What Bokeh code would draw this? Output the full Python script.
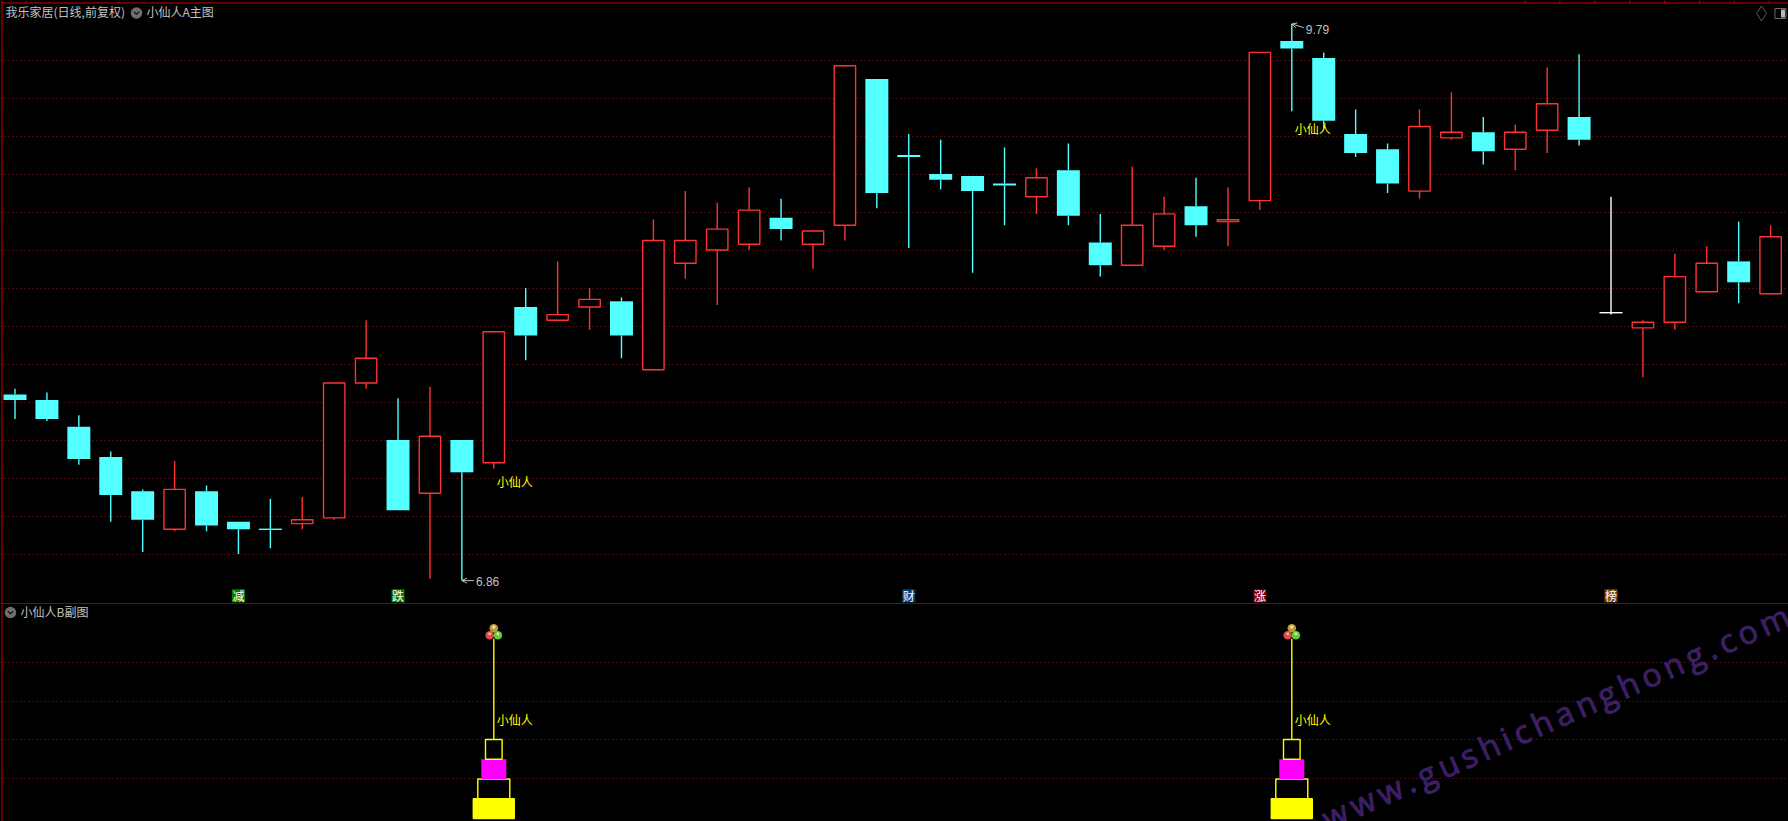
import math
from bokeh.plotting import figure
from bokeh.layouts import column
from bokeh.models import Range1d, Grid, FixedTicker, Span, Arrow, OpenHead
from bokeh.core.properties import value
from bokeh.embed import file_html
from bokeh.resources import INLINE

# ---------- data ----------
opens  = [7.84,7.81,7.67,7.51,7.33,7.13,7.33,7.17,7.13,7.16,7.19,7.90,7.60,7.32,
          7.60,7.48,8.30,8.23,8.30,8.33,7.97,8.53,8.60,8.63,8.77,8.63,8.73,9.50,
          9.10,9.00,8.99,8.95,8.88,9.02,8.64,8.52,8.62,8.83,8.75,8.86,9.70,9.61,
          9.21,9.13,8.91,9.19,9.22,9.13,9.23,9.30,8.27,8.19,8.22,8.38,8.54,8.37]
highs  = [7.87,7.85,7.73,7.54,7.34,7.49,7.36,7.17,7.29,7.30,7.90,8.23,7.82,7.88,
          7.60,8.17,8.40,8.54,8.40,8.35,8.76,8.91,8.85,8.93,8.87,8.70,9.57,9.50,
          9.21,9.18,8.99,9.14,9.03,9.16,8.79,9.04,8.88,8.98,8.93,9.64,9.79,9.64,
          9.34,9.16,9.34,9.43,9.30,9.26,9.56,9.63,8.88,8.23,8.58,8.62,8.75,8.73]
lows   = [7.71,7.70,7.47,7.17,7.01,7.12,7.12,7.00,7.03,7.13,7.18,7.87,7.23,6.87,
          6.86,7.45,8.02,8.23,8.18,8.03,7.97,8.45,8.31,8.60,8.65,8.50,8.65,8.82,
          8.61,8.92,8.48,8.73,8.79,8.73,8.46,8.52,8.60,8.67,8.62,8.81,9.33,9.24,
          9.09,8.90,8.87,9.18,9.05,9.02,9.11,9.15,8.26,7.93,8.18,8.38,8.32,8.37]
closes = [7.81,7.71,7.50,7.31,7.18,7.34,7.15,7.13,7.13,7.18,7.90,8.03,7.23,7.62,
          7.43,8.17,8.15,8.26,8.34,8.15,8.65,8.65,8.71,8.81,8.71,8.70,9.57,8.90,
          9.09,8.97,8.91,8.94,8.98,8.78,8.52,8.73,8.79,8.73,8.76,9.64,9.66,9.28,
          9.11,8.95,9.25,9.22,9.12,9.22,9.37,9.18,8.27,8.22,8.46,8.53,8.43,8.67]
white_days = [50]

price_grid = [9.6,9.4,9.2,9.0,8.8,8.6,8.4,8.2,8.0,7.8,7.6,7.4,7.2,7.0]
sub_grid = [2.03,4.0,5.92,7.9]

signal_days = [15,40]
signal_label_prices = [7.38,9.24]
signal_label = "小仙人"
tower_bottoms = [0,1,2,3]
tower_tops = [1,2,3,4]
stem_top = 9.1
sub_label_level = 5.0

hi_mark = (40,9.79)
lo_mark = (14,6.86)

sign_days = [7,12,28,39,50]
sign_chars = ["减","跌","财","涨","榜"]
sign_colors = ["#008000","#008000","#004080","#800000","#804000"]
sign_price = 6.78

title_stock = "我乐家居(日线,前复权)"
title_main = "小仙人A主图"
title_sub = "小仙人B副图"
watermark = "www.gushichanghong.com"
wm_adv = {"w":.78,".":.27,"g":.55,"u":.61,"s":.48,"h":.61,"i":.25,"c":.48,"a":.56,"n":.61,"o":.60,"m":.93}

# ---------- layout ----------
W, H_MAIN, H_SUB = 1788, 604, 217
STEP = 31.92
PX_PRICE = 190.0
PX_LEVEL = 19.75
X0 = -14.5 / STEP
Y_TOP = 9.6 + 59.5 / PX_PRICE
L_TOP = (818 - H_MAIN) / PX_LEVEL
L_BOT = (818 - 821) / PX_LEVEL
RED, CYAN, WHITE = "#ff3232", "#54ffff", "#ffffff"
EDGE, GRID = "#c80000", "#8c1414"
CJK = value("Noto Sans CJK SC")

def dx(X): return X0 + X / STEP            # reference pixel -> x data
def my(Y): return Y_TOP - Y / PX_PRICE     # reference pixel -> price
def sy(Y): return (818 - Y) / PX_LEVEL     # reference pixel -> lower panel level

def make_fig(h, ytop, ybot):
    return figure(width=W, height=h, x_range=Range1d(X0, X0 + W / STEP), y_range=Range1d(ybot, ytop),
                  x_axis_type=None, y_axis_type=None, toolbar_location=None, output_backend="svg",
                  min_border=0, background_fill_color="#000000", border_fill_color="#000000",
                  outline_line_color=None, styles={"background-color": "#000000"})

main = make_fig(H_MAIN, Y_TOP, Y_TOP - H_MAIN / PX_PRICE)
sub = make_fig(H_SUB, L_TOP, L_BOT)

for f, ticks in ((main, price_grid), (sub, sub_grid)):
    f.add_layout(Grid(dimension=1, ticker=FixedTicker(ticks=ticks), grid_line_color=GRID,
                      grid_line_dash="1 3", grid_line_width=1))
    f.add_layout(Span(location=dx(1.5), dimension="height", line_color=EDGE, line_width=1))

main.add_layout(Span(location=my(2.5), dimension="width", line_color=EDGE, line_width=1))
main.add_layout(Span(location=my(603.3), dimension="width", line_color=EDGE, line_width=1))

# top edge tick marks
tx = [25.5] + [1524.5 + 34.9 * k for k in range(8)]
main.segment([dx(v) for v in tx], my(0), [dx(v) for v in tx], my(2.5), line_color=EDGE, line_width=1)

# ---------- candles ----------
days = list(range(len(opens)))
def colour(i):
    if i in white_days:
        return WHITE
    return RED if closes[i] > opens[i] else CYAN
cols = [colour(i) for i in days]
tops = [max(o, c) for o, c in zip(opens, closes)]
bots = [min(o, c) for o, c in zip(opens, closes)]

main.segment(days, highs, days, tops, line_color=cols, line_width=1.4)
main.segment(days, bots, days, lows, line_color=cols, line_width=1.4)

up = [i for i in days if cols[i] == RED]
dn = [i for i in days if cols[i] == CYAN and tops[i] - bots[i] > 0.005]
flat = [i for i in days if tops[i] == bots[i]]
main.quad(left=[i - 0.335 for i in up], right=[i + 0.335 for i in up],
          top=[tops[i] for i in up], bottom=[bots[i] for i in up],
          fill_color="#000000", line_color=RED, line_width=1.4)
main.quad(left=[i - 0.36 for i in dn], right=[i + 0.36 for i in dn],
          top=[tops[i] for i in dn], bottom=[bots[i] for i in dn],
          fill_color=CYAN, line_color=None)
main.segment([i - 0.36 for i in flat], [tops[i] for i in flat], [i + 0.36 for i in flat], [tops[i] for i in flat],
             line_color=[cols[i] for i in flat], line_width=1.4)

# ---------- signs, labels, extremes ----------
main.rect(sign_days, sign_price, width=13, height=13, width_units="screen", height_units="screen",
          fill_color=sign_colors, line_color=None)
main.text(sign_days, sign_price, text=sign_chars, text_color="#ffffff", text_font=CJK, text_font_size="12px",
          text_align="center", text_baseline="middle")
main.text(signal_days, signal_label_prices, text=[signal_label] * 2, text_color="#ffff00", text_font=CJK,
          text_font_size="12px", text_align="left", text_baseline="middle", x_offset=3)

GREY = "#c0c0c0"
main.add_layout(Arrow(end=OpenHead(size=5, line_color=GREY, line_width=1), line_color=GREY, line_width=1,
                      x_start=lo_mark[0] + 12 / STEP, y_start=lo_mark[1], x_end=lo_mark[0], y_end=lo_mark[1]))
main.add_layout(Arrow(end=OpenHead(size=5, line_color=GREY, line_width=1), line_color=GREY, line_width=1,
                      x_start=hi_mark[0] + 12 / STEP, y_start=hi_mark[1] - 0.02, x_end=hi_mark[0], y_end=hi_mark[1]))
for (d, v), dy in ((lo_mark, -0.006), (hi_mark, -0.031)):
    main.text([d], [v + dy], text=[f"{v:.2f}"], text_color=GREY, text_font=value("Liberation Sans"),
              text_font_size="12px", text_align="left", text_baseline="middle", x_offset=14)

# ---------- titles and window icons ----------
def icon(f, X, yval, px_unit):
    f.scatter([dx(X)], [yval], marker="circle", size=11.5, fill_color="#6e6e6e", line_color=None)
    d = 2.6 / STEP
    s = 1.3 / px_unit
    f.line([dx(X) - d, dx(X), dx(X) + d], [yval + s, yval - s, yval + s], line_color="#1a1a1a", line_width=1.3)

main.text([dx(5)], [my(11)], text=[title_stock], text_color=GREY, text_font=CJK, text_font_size="12px",
          text_align="left", text_baseline="middle")
icon(main, 136, my(12.5), PX_PRICE)
main.text([dx(146)], [my(11)], text=[title_main], text_color=GREY, text_font=CJK, text_font_size="12px",
          text_align="left", text_baseline="middle")
main.scatter([dx(1761)], [my(13)], marker="diamond", size=15, fill_color=None, line_color="#5a5a5a", line_width=1)
main.rect([dx(1780)], [my(13)], width=11, height=10, width_units="screen", height_units="screen",
          fill_color="#000000", line_color="#6a6a6a", line_width=1)
main.rect([dx(1782.5)], [my(13)], width=4, height=8, width_units="screen", height_units="screen",
          fill_color="#b8b8b8", line_color=None)

icon(sub, 10, sy(612), PX_LEVEL)
sub.text([dx(20)], [sy(610.5)], text=[title_sub], text_color=GREY, text_font=CJK, text_font_size="12px",
         text_align="left", text_baseline="middle")

# ---------- watermark ----------
angle = 0.417
px, py = 1323.0, 818.5
xs, ys, chs = [], [], []
for ch in watermark:
    xs.append(dx(px))
    ys.append(sy(py))
    chs.append(ch)
    adv = wm_adv[ch] * 32 + 5
    px += adv * math.cos(angle)
    py -= adv * math.sin(angle)
sub.text(xs, ys, text=chs, angle=angle, text_color="#4a1a5c", outline_color="#33226a",
         text_font=value("Open Sans"), text_font_size="32px", text_align="left", text_baseline="alphabetic")

# ---------- towers in the lower panel ----------
YEL, MAG = "#ffff00", "#ff00ff"
half = [20.5 / STEP, 16 / STEP, 12.5 / STEP, 8.3 / STEP]
fills = [YEL, None, MAG, None]
for d in signal_days:
    sub.segment([d], [tower_tops[-1]], [d], [stem_top], line_color=YEL, line_width=1.4)
    for b, t, h, fc in zip(tower_bottoms, tower_tops, half, fills):
        sub.quad(left=[d - h], right=[d + h], top=[t], bottom=[b],
                 fill_color=fc if fc else "#000000",
                 line_color=YEL if fc != MAG else None, line_width=1.4)
    u = 4.1 / STEP
    sub.scatter([d], [stem_top + 0.53], marker="circle", size=8.5, fill_color="#c09a30", line_color=None)
    sub.scatter([d - u], [stem_top + 0.18], marker="circle", size=8.5, fill_color="#e04a4a", line_color=None)
    sub.scatter([d + u], [stem_top + 0.18], marker="circle", size=8.5, fill_color="#62cc3a", line_color=None)
    sub.scatter([d], [stem_top + 0.6], marker="circle", size=3.5, fill_color="#e8e0b0", line_color=None)
    sub.scatter([d - u], [stem_top + 0.25], marker="circle", size=3, fill_color="#f4b0a0", line_color=None)
    sub.scatter([d + u], [stem_top + 0.25], marker="circle", size=3, fill_color="#c8f0a0", line_color=None)
sub.text(signal_days, [sub_label_level] * 2, text=[signal_label] * 2, text_color="#ffff00", text_font=CJK,
         text_font_size="12px", text_align="left", text_baseline="middle", x_offset=3)

page = column(main, sub, spacing=0, styles={"background-color": "#000000"})
open("out.html", "w").write(file_html(page, INLINE))
